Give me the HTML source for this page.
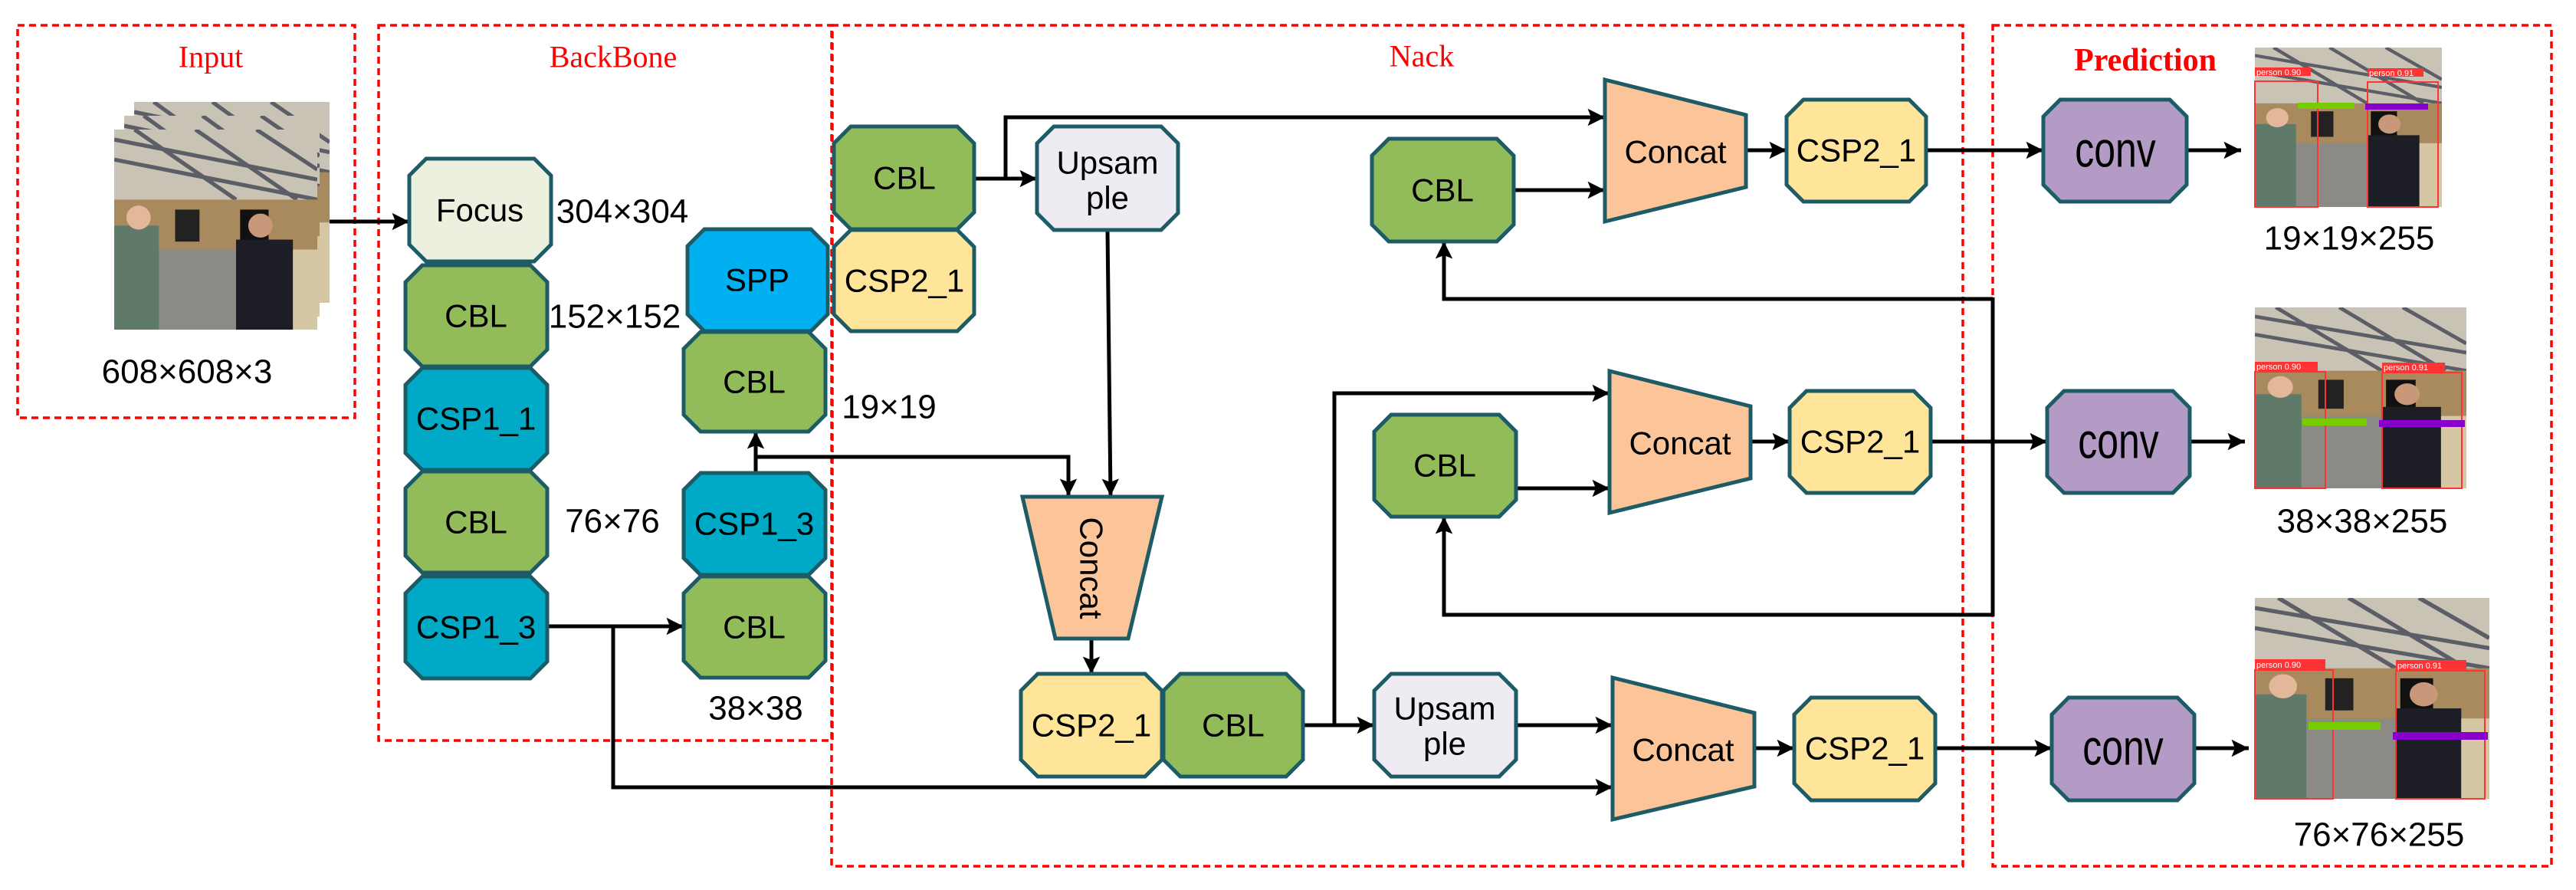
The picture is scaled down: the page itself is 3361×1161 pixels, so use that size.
<!DOCTYPE html>
<html><head><meta charset="utf-8"><style>
html,body{margin:0;padding:0;background:#fff}
svg{display:block}
.t{font-family:"Liberation Sans",sans-serif;font-size:42px;fill:#000;text-anchor:middle;dominant-baseline:central}
.lab{font-family:"Liberation Sans",sans-serif;font-size:44px;fill:#000;text-anchor:middle;dominant-baseline:central}
.red{font-family:"Liberation Serif",serif;font-size:40px;fill:#f00;text-anchor:middle;dominant-baseline:central}
.box{stroke:#1d5c66;stroke-width:5}
.ln{stroke:#000;stroke-width:5;fill:none}
.dash{fill:none;stroke:#f00;stroke-width:3.5;stroke-dasharray:9 6}
.det{font-family:"Liberation Sans",sans-serif;font-size:11px;fill:#fff}
</style></head><body>
<svg width="3361" height="1161" viewBox="0 0 3361 1161" xmlns="http://www.w3.org/2000/svg">
<defs>
<marker id="a" viewBox="0 0 10 10" refX="10" refY="5" markerWidth="5" markerHeight="4.5" orient="auto" markerUnits="strokeWidth">
<path d="M0,0 L10,5 L0,10 L2,5 z" fill="#000"/></marker>
<symbol id="photo" viewBox="0 0 100 100" preserveAspectRatio="none">
<rect width="100" height="100" fill="#d9dadf"/>
<rect y="0" width="100" height="35" fill="#c9c3b6"/>
<path d="M0,5 L100,25 M0,15 L100,35 M10,0 L60,35 M40,0 L90,35 M70,0 L100,20" stroke="#5b5e66" stroke-width="2"/>
<rect y="35" width="100" height="38" fill="#a88a5e"/>
<rect x="30" y="40" width="12" height="16" fill="#222"/>
<rect x="62" y="40" width="14" height="16" fill="#111"/>
<rect y="60" width="100" height="40" fill="#8c8a84"/>
<rect x="0" y="48" width="22" height="52" fill="#5f7a68"/>
<circle cx="12" cy="44" r="6" fill="#e3b79a"/>
<rect x="60" y="55" width="28" height="45" fill="#1d1e25"/>
<circle cx="72" cy="48" r="6" fill="#c9987a"/>
<rect x="88" y="60" width="12" height="40" fill="#d5c6a4"/>
</symbol>
</defs>

<rect class="dash" x="23" y="33" width="440" height="512"/>
<rect class="dash" x="494" y="33" width="592" height="933"/>
<rect class="dash" x="1085" y="33" width="1476" height="1097"/>
<rect class="dash" x="2600" y="33" width="729" height="1097"/>
<text class="red" x="275" y="74">Input</text>
<text class="red" x="800" y="74">BackBone</text>
<text class="red" x="1855" y="73">Nack</text>
<text class="red" x="2799" y="79" style="font-weight:bold;font-size:42px">Prediction</text>

<use href="#photo" x="175" y="133" width="255" height="262"/>
<use href="#photo" x="162" y="151" width="255" height="262"/>
<use href="#photo" x="149" y="169" width="265" height="261"/>
<text class="lab" x="244" y="485">608×608×3</text>

<line class="ln" x1="430" y1="289" x2="534" y2="289" marker-end="url(#a)"/>
<line class="ln" x1="714" y1="817" x2="892" y2="817" marker-end="url(#a)"/>
<polyline class="ln" points="800,817 800,1027 2104,1027" marker-end="url(#a)"/>
<line class="ln" x1="986" y1="617" x2="986" y2="563" marker-end="url(#a)"/>
<polyline class="ln" points="986,596 1394,596 1394,647" marker-end="url(#a)"/>
<line class="ln" x1="1271" y1="233" x2="1353" y2="233" marker-end="url(#a)"/>
<polyline class="ln" points="1312,233 1312,153 2094,153" marker-end="url(#a)"/>
<line class="ln" x1="1445" y1="300" x2="1449" y2="647" marker-end="url(#a)"/>
<line class="ln" x1="1424" y1="833" x2="1424" y2="879" marker-end="url(#a)"/>
<line class="ln" x1="1700" y1="946" x2="1793" y2="946" marker-end="url(#a)"/>
<polyline class="ln" points="1741,946 1741,513 2100,513" marker-end="url(#a)"/>
<line class="ln" x1="1978" y1="946" x2="2104" y2="946" marker-end="url(#a)"/>
<line class="ln" x1="1975" y1="248" x2="2094" y2="248" marker-end="url(#a)"/>
<line class="ln" x1="1978" y1="637" x2="2100" y2="637" marker-end="url(#a)"/>
<line class="ln" x1="2278" y1="196" x2="2331" y2="196" marker-end="url(#a)"/>
<line class="ln" x1="2284" y1="576" x2="2335" y2="576" marker-end="url(#a)"/>
<line class="ln" x1="2289" y1="976" x2="2341" y2="976" marker-end="url(#a)"/>
<line class="ln" x1="2513" y1="196" x2="2666" y2="196" marker-end="url(#a)"/>
<line class="ln" x1="2519" y1="576" x2="2671" y2="576" marker-end="url(#a)"/>
<line class="ln" x1="2525" y1="976" x2="2677" y2="976" marker-end="url(#a)"/>
<line class="ln" x1="2853" y1="196" x2="2924" y2="196" marker-end="url(#a)"/>
<line class="ln" x1="2857" y1="576" x2="2929" y2="576" marker-end="url(#a)"/>
<line class="ln" x1="2863" y1="976" x2="2934" y2="976" marker-end="url(#a)"/>
<line class="ln" x1="2600" y1="388" x2="2600" y2="804"/>
<polyline class="ln" points="2600,390 1884,390 1884,315" marker-end="url(#a)"/>
<polyline class="ln" points="2600,802 1884,802 1884,674" marker-end="url(#a)"/>

<polygon class="box" fill="#ebf1de" points="556,207 697,207 719,229 719,319 697,341 556,341 534,319 534,229"/>
<polygon class="box" fill="#92bb59" points="551,346 692,346 714,368 714,456 692,478 551,478 529,456 529,368"/>
<polygon class="box" fill="#00a9c5" points="551,480 692,480 714,502 714,591 692,613 551,613 529,591 529,502"/>
<polygon class="box" fill="#92bb59" points="551,615 692,615 714,637 714,725 692,747 551,747 529,725 529,637"/>
<polygon class="box" fill="#00a9c5" points="551,752 692,752 714,774 714,863 692,885 551,885 529,863 529,774"/>
<polygon class="box" fill="#00b0f0" points="919,299 1058,299 1080,321 1080,410 1058,432 919,432 897,410 897,321"/>
<polygon class="box" fill="#92bb59" points="914,433 1055,433 1077,455 1077,541 1055,563 914,563 892,541 892,455"/>
<polygon class="box" fill="#00a9c5" points="914,617 1055,617 1077,639 1077,728 1055,750 914,750 892,728 892,639"/>
<polygon class="box" fill="#92bb59" points="914,752 1055,752 1077,774 1077,862 1055,884 914,884 892,862 892,774"/>
<text class="t" x="626" y="274">Focus</text>
<text class="t" x="621" y="412">CBL</text>
<text class="t" x="621" y="546">CSP1_1</text>
<text class="t" x="621" y="681">CBL</text>
<text class="t" x="621" y="818">CSP1_3</text>
<text class="t" x="988" y="365">SPP</text>
<text class="t" x="984" y="498">CBL</text>
<text class="t" x="984" y="683">CSP1_3</text>
<text class="t" x="984" y="818">CBL</text>
<text class="lab" x="812" y="276">304×304</text>
<text class="lab" x="802" y="413">152×152</text>
<text class="lab" x="799" y="680">76×76</text>
<text class="lab" x="986" y="924">38×38</text>
<text class="lab" x="1160" y="531">19×19</text>

<polygon class="box" fill="#92bb59" points="1110,165 1249,165 1271,187 1271,277 1249,299 1110,299 1088,277 1088,187"/>
<polygon class="box" fill="#fee599" points="1110,300 1249,300 1271,322 1271,410 1249,432 1110,432 1088,410 1088,322"/>
<polygon class="box" fill="#eeebf3" points="1375,165 1515,165 1537,187 1537,278 1515,300 1375,300 1353,278 1353,187"/>
<polygon class="box" fill="#fee599" points="1354,879 1494,879 1516,901 1516,991 1494,1013 1354,1013 1332,991 1332,901"/>
<polygon class="box" fill="#92bb59" points="1540,879 1678,879 1700,901 1700,991 1678,1013 1540,1013 1518,991 1518,901"/>
<polygon class="box" fill="#eeebf3" points="1815,879 1956,879 1978,901 1978,991 1956,1013 1815,1013 1793,991 1793,901"/>
<polygon class="box" fill="#92bb59" points="1812,181 1953,181 1975,203 1975,293 1953,315 1812,315 1790,293 1790,203"/>
<polygon class="box" fill="#92bb59" points="1815,541 1956,541 1978,563 1978,652 1956,674 1815,674 1793,652 1793,563"/>
<polygon class="box" fill="#fee599" points="2353,130 2491,130 2513,152 2513,241 2491,263 2353,263 2331,241 2331,152"/>
<polygon class="box" fill="#fee599" points="2357,510 2497,510 2519,532 2519,621 2497,643 2357,643 2335,621 2335,532"/>
<polygon class="box" fill="#fee599" points="2363,910 2503,910 2525,932 2525,1022 2503,1044 2363,1044 2341,1022 2341,932"/>
<polygon class="box" fill="#fcc599" points="2094,104 2278,150 2278,244 2094,289"/>
<polygon class="box" fill="#fcc599" points="2100,484 2284,530 2284,624 2100,669"/>
<polygon class="box" fill="#fcc599" points="2104,884 2289,930 2289,1026 2104,1069"/>
<polygon class="box" fill="#fcc599" points="1334,648 1516,648 1472,833 1377,833"/>
<text class="t" x="1180" y="232">CBL</text>
<text class="t" x="1180" y="366">CSP2_1</text>
<text class="t" x="1445" y="212">Upsam</text>
<text class="t" x="1445" y="258">ple</text>
<text class="t" x="1424" y="946">CSP2_1</text>
<text class="t" x="1609" y="946">CBL</text>
<text class="t" x="1885" y="924">Upsam</text>
<text class="t" x="1885" y="970">ple</text>
<text class="t" x="1882" y="248">CBL</text>
<text class="t" x="1885" y="607">CBL</text>
<text class="t" x="2422" y="196">CSP2_1</text>
<text class="t" x="2427" y="576">CSP2_1</text>
<text class="t" x="2433" y="976">CSP2_1</text>
<text class="t" x="2186" y="198">Concat</text>
<text class="t" x="2192" y="578">Concat</text>
<text class="t" x="2196" y="978">Concat</text>
<text class="t" transform="translate(1424,741) rotate(90)">Concat</text>

<polygon class="box" fill="#b39bc6" points="2688,130 2831,130 2853,152 2853,241 2831,263 2688,263 2666,241 2666,152"/>
<polygon class="box" fill="#b39bc6" points="2693,510 2835,510 2857,532 2857,621 2835,643 2693,643 2671,621 2671,532"/>
<polygon class="box" fill="#b39bc6" points="2699,910 2841,910 2863,932 2863,1022 2841,1044 2699,1044 2677,1022 2677,932"/>
<text class="t" transform="translate(2760,196) scale(1,1.3)" style="font-size:50px">conv</text>
<text class="t" transform="translate(2764,576) scale(1,1.3)" style="font-size:50px">conv</text>
<text class="t" transform="translate(2770,976) scale(1,1.3)" style="font-size:50px">conv</text>

<g>
<use href="#photo" x="2942" y="62" width="244" height="208"/>
<rect x="2942" y="106" width="82" height="164" fill="none" stroke="#f33" stroke-width="2"/>
<rect x="3089" y="107" width="92" height="163" fill="none" stroke="#f33" stroke-width="2"/>
<rect x="2942" y="88" width="73" height="11" fill="#f33"/><text class="det" x="2944" y="98">person 0.90</text>
<rect x="3089" y="89" width="73" height="11" fill="#f33"/><text class="det" x="3091" y="99">person 0.91</text>
<rect x="2998" y="134" width="74" height="8" fill="#7c0"/>
<rect x="3086" y="135" width="82" height="8" fill="#80c"/>
</g>
<g>
<use href="#photo" x="2942" y="401" width="276" height="236"/>
<rect x="2942" y="485" width="92" height="152" fill="none" stroke="#f33" stroke-width="2"/>
<rect x="3108" y="486" width="104" height="151" fill="none" stroke="#f33" stroke-width="2"/>
<rect x="2942" y="472" width="82" height="12" fill="#f33"/><text class="det" x="2944" y="482">person 0.90</text>
<rect x="3108" y="473" width="82" height="12" fill="#f33"/><text class="det" x="3110" y="483">person 0.91</text>
<rect x="3004" y="546" width="84" height="9" fill="#7c0"/>
<rect x="3104" y="548" width="112" height="9" fill="#80c"/>
</g>
<g>
<use href="#photo" x="2942" y="780" width="306" height="262"/>
<rect x="2942" y="874" width="102" height="168" fill="none" stroke="#f33" stroke-width="2"/>
<rect x="3126" y="875" width="116" height="167" fill="none" stroke="#f33" stroke-width="2"/>
<rect x="2942" y="860" width="92" height="13" fill="#f33"/><text class="det" x="2944" y="871">person 0.90</text>
<rect x="3126" y="861" width="92" height="13" fill="#f33"/><text class="det" x="3128" y="872">person 0.91</text>
<rect x="3012" y="942" width="94" height="10" fill="#7c0"/>
<rect x="3122" y="955" width="124" height="10" fill="#80c"/>
</g>
<text class="lab" x="3065" y="311">19×19×255</text>
<text class="lab" x="3082" y="680">38×38×255</text>
<text class="lab" x="3104" y="1089">76×76×255</text>
</svg>
</body></html>
